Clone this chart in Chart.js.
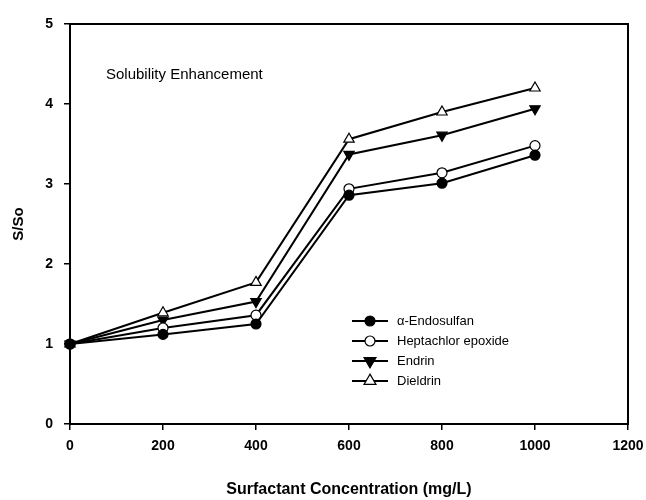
<!DOCTYPE html>
<html>
<head>
<meta charset="utf-8">
<script src="https://cdn.jsdelivr.net/npm/chart.js@4/dist/chart.umd.min.js"></script>
<style>
  html, body { margin: 0; padding: 0; background: #fff; }
  #wrap { width: 646px; height: 500px; position: relative; }
</style>
</head>
<body>
<div id="wrap"><canvas id="chart" width="646" height="500"></canvas></div>
<script>
'use strict';

// surfactant concentration (mg/L)
const concentrations = [0, 200, 400, 600, 800, 1000];

const endosulfan = [1.0, 1.12, 1.25, 2.86, 3.01, 3.36];
const heptachlor = [1.0, 1.2, 1.36, 2.94, 3.14, 3.48];
const endrin = [1.0, 1.3, 1.53, 3.37, 3.61, 3.94];
const dieldrin = [1.0, 1.39, 1.77, 3.56, 3.9, 4.2];

const seriesNames = ['\u03b1-Endosulfan', 'Heptachlor epoxide', 'Endrin', 'Dieldrin'];
const xTicks = [0, 200, 400, 600, 800, 1000, 1200];
const yTicks = [0, 1, 2, 3, 4, 5];

const toPoints = (vals) => vals.map((v, i) => ({x: concentrations[i], y: v}));

function makeSet(label, vals, style, fill, rotation, radius) {
    return {
        label: label,
        data: toPoints(vals),
        borderColor: '#000',
        borderWidth: 2,
        pointStyle: style,
        pointRotation: rotation,
        pointRadius: radius,
        pointBackgroundColor: fill,
        pointBorderColor: '#000',
        pointBorderWidth: 1.2,
        tension: 0,
        clip: false
    };
}

function drawShape(ctx, ds, x, y) {
    const r = ds.pointRadius;
    if (ds.pointStyle === 'circle') {
        ctx.arc(x, y, r, 0, Math.PI * 2);
    } else {
        const rot = ds.pointRotation * Math.PI / 180;
        for (let k = 0; k < 3; k++) {
            const ang = rot - Math.PI / 2 + k * 2 * Math.PI / 3;
            const px = x + Math.cos(ang) * r * 1.15;
            const py = y + Math.sin(ang) * r * 1.15;
            if (k === 0) ctx.moveTo(px, py); else ctx.lineTo(px, py);
        }
        ctx.closePath();
    }
}

// frame round the plot area, title text and the inner legend
const framePlugin = {
    id: 'frame',
    afterDraw(chart) {
        const ctx = chart.ctx;
        const a = chart.chartArea;
        ctx.save();
        ctx.strokeStyle = '#000';
        ctx.lineWidth = 2;
        ctx.strokeRect(a.left, a.top, a.right - a.left, a.bottom - a.top);

        ctx.fillStyle = '#000';
        ctx.font = '15px "Liberation Sans", Arial, sans-serif';
        ctx.textBaseline = 'middle';
        ctx.textAlign = 'left';
        ctx.fillText('Solubility Enhancement', 106, 75);

        // legend
        const lx = 352, lw = 36, ly = 321, step = 20;
        ctx.font = '13px "Liberation Sans", Arial, sans-serif';
        chart.data.datasets.forEach((ds, i) => {
            const y = ly + i * step;
            ctx.strokeStyle = '#000';
            ctx.lineWidth = 2;
            ctx.beginPath();
            ctx.moveTo(lx, y);
            ctx.lineTo(lx + lw, y);
            ctx.stroke();
            ctx.fillStyle = ds.pointBackgroundColor;
            ctx.lineWidth = ds.pointBorderWidth;
            ctx.beginPath();
            drawShape(ctx, ds, lx + lw / 2, y);
            ctx.fill();
            ctx.stroke();
            ctx.fillStyle = '#000';
            ctx.fillText(ds.label, 397, y);
        });
        ctx.restore();
    }
};

const tickFont = {family: '"Liberation Sans", Arial, sans-serif', size: 14, weight: 'bold'};

new Chart(document.getElementById('chart'), {
    type: 'line',
    data: {
        datasets: [
            makeSet(seriesNames[0], endosulfan, 'circle', '#000', 0, 5),
            makeSet(seriesNames[1], heptachlor, 'circle', '#fff', 0, 5),
            makeSet(seriesNames[2], endrin, 'triangle', '#000', 180, 6),
            makeSet(seriesNames[3], dieldrin, 'triangle', '#fff', 0, 6)
        ]
    },
    options: {
        responsive: false,
        animation: false,
        devicePixelRatio: 1,
        layout: {padding: {top: 24, right: 18, left: 0, bottom: 0}},
        plugins: {
            legend: {display: false},
            tooltip: {enabled: false}
        },
        scales: {
            x: {
                type: 'linear',
                min: 0,
                max: 1200,
                afterBuildTicks(scale) { scale.ticks = xTicks.map(v => ({value: v})); },
                afterFit(scale) {
                    scale.height = 76;
                    scale.paddingLeft = 0;
                    scale.paddingRight = 0;
                },
                ticks: {color: '#000', font: tickFont, padding: 8, callback: v => String(v)},
                grid: {drawOnChartArea: false, color: '#000', tickLength: 6, lineWidth: 1.5},
                border: {color: '#000', width: 2},
                title: {
                    display: true,
                    text: 'Surfactant Concentration (mg/L)',
                    color: '#000',
                    font: {family: '"Liberation Sans", Arial, sans-serif', size: 16, weight: 'bold'},
                    padding: {top: 4, bottom: 1}
                }
            },
            y: {
                min: 0,
                max: 5,
                afterBuildTicks(scale) { scale.ticks = yTicks.map(v => ({value: v})); },
                afterFit(scale) {
                    scale.width = 70;
                    scale.paddingTop = 0;
                    scale.paddingBottom = 0;
                },
                ticks: {color: '#000', font: tickFont, padding: 11, callback: v => String(v)},
                grid: {drawOnChartArea: false, color: '#000', tickLength: 6, lineWidth: 1.5},
                border: {color: '#000', width: 2},
                title: {
                    display: true,
                    text: 'S/So',
                    color: '#000',
                    font: {family: '"Liberation Sans", Arial, sans-serif', size: 15, weight: 'bold'},
                    padding: {top: 10, bottom: 0}
                }
            }
        }
    },
    plugins: [framePlugin]
});
</script>
</body>
</html>
